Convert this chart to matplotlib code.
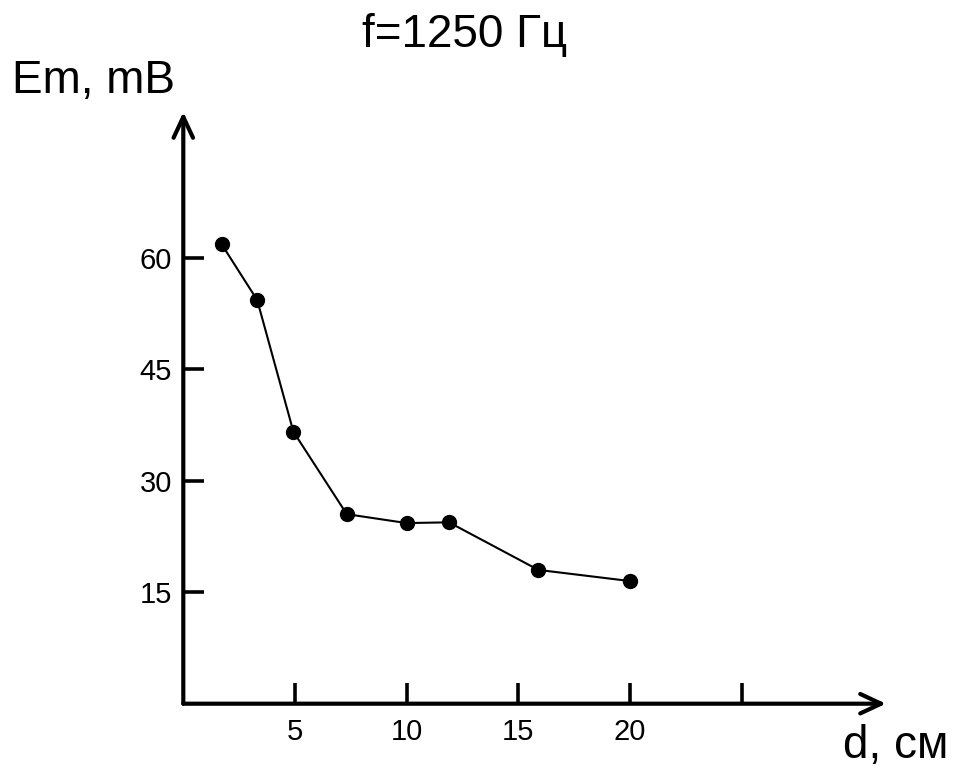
import matplotlib
matplotlib.use("Agg")
import matplotlib.pyplot as plt

plt.rcParams["font.family"] = ["Liberation Sans", "DejaVu Sans"]

# ----- data -----
d_cm = [1.72, 3.31, 4.93, 7.32, 10.0, 11.9, 15.9, 20.0]
em_mv = [61.8, 54.3, 36.6, 25.5, 24.3, 24.4, 18.0, 16.5]
x_ticks = [5, 10, 15, 20, 25]
x_ticklabels = ["5", "10", "15", "20", ""]
y_ticks = [15, 30, 45, 60]
y_ticklabels = ["15", "30", "45", "60"]

W, H = 959, 769
fig = plt.figure(figsize=(W / 100, H / 100), dpi=100)

# axes box in pixels: origin at (183, 703.7), arrow tips at x=886 / y=112
x0, y0, x1, y1 = 183.3, 703.7, 886, 112
ax = fig.add_axes([x0 / W, (H - y0) / H, (x1 - x0) / W, (y0 - y1) / H])
ax.set_xlim(0, (x1 - x0) / 22.33)
ax.set_ylim(0, (y0 - y1) / 7.433)

ax.plot(d_cm, em_mv, "-", color="black", lw=1.5, marker="o", ms=10,
        clip_on=False)

for s in ax.spines.values():
    s.set_visible(False)

ax.set_xticks(x_ticks)
ax.set_xticklabels(x_ticklabels)
ax.set_yticks(y_ticks)
ax.set_yticklabels(y_ticklabels)
ax.tick_params(axis="both", direction="in", length=15, width=2.6,
               labelsize=21, color="black")
ax.tick_params(axis="x", pad=10)
ax.tick_params(axis="y", pad=8)

arrow = dict(arrowstyle="->,head_length=1.5,head_width=0.7", lw=3,
             color="black", shrinkA=0, shrinkB=0)
ax.annotate("", xy=(1, 0), xytext=(0, 0), xycoords="axes fraction",
            textcoords="axes fraction", arrowprops=arrow, annotation_clip=False)
ax.annotate("", xy=(0, 1), xytext=(0, 0), xycoords="axes fraction",
            textcoords="axes fraction", arrowprops=arrow, annotation_clip=False)

fig.text(465 / W, 1 - 47 / H, "f=1250 Гц", fontsize=33, ha="center", va="baseline")
fig.text(12 / W, 1 - 93 / H, "Em, mB", fontsize=33, ha="left", va="baseline")
fig.text(948 / W, 1 - 758 / H, "d, см", fontsize=33, ha="right", va="baseline")

fig.savefig("out.png", dpi=100)
